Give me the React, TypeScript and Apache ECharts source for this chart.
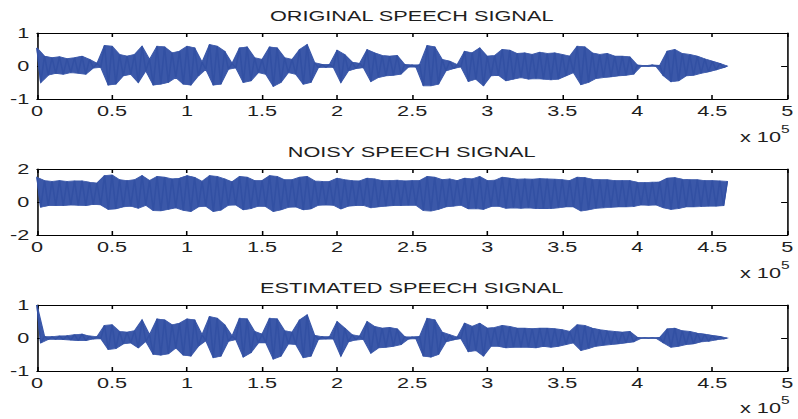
import React, { useEffect, useRef } from "react";
import * as echarts from "echarts";

// ---------------- data (x in units of 10^5 samples) ----------------
// Peak (upper) values read at x = 0, 0.05, 0.10, ... 4.60
// Trough (lower) values read at x = 0.025, 0.075, ... 4.575
const STEP = 0.05;

const origTop = [
  0.55, 0.3, 0.25, 0.28, 0.22, 0.25, 0.3, 0.2, 0.08, 0.62,
  0.6, 0.35, 0.3, 0.35, 0.6, 0.2, 0.6, 0.58, 0.4, 0.45,
  0.6, 0.55, 0.12, 0.65, 0.6, 0.45, 0.08, 0.55, 0.58, 0.25,
  0.2, 0.58, 0.55, 0.25, 0.2, 0.5, 0.65, 0.1, 0.05, 0.05,
  0.48, 0.35, 0.12, 0.08, 0.5, 0.4, 0.32, 0.3, 0.32, 0.05,
  0.03, 0.04, 0.62, 0.58, 0.2, 0.15, 0.04, 0.45, 0.4, 0.55,
  0.3, 0.32, 0.5, 0.48, 0.38, 0.4, 0.35, 0.42, 0.38, 0.4,
  0.35, 0.3, 0.6, 0.58, 0.4, 0.35, 0.38, 0.3, 0.3, 0.28,
  0.03, 0.01, 0.03, 0.02, 0.45, 0.5, 0.38, 0.35, 0.3, 0.22,
  0.15, 0.08, 0.0,
];
const origBot = [
  -0.5, -0.28, -0.22, -0.25, -0.2, -0.22, -0.25, -0.06, -0.04, -0.58,
  -0.55, -0.3, -0.25, -0.5, -0.15, -0.58, -0.55, -0.5, -0.35, -0.55,
  -0.58, -0.3, -0.1, -0.58, -0.55, -0.1, -0.06, -0.5, -0.45, -0.2,
  -0.25, -0.62, -0.5, -0.2, -0.25, -0.55, -0.5, -0.05, -0.04, -0.04,
  -0.5, -0.15, -0.08, -0.05, -0.47, -0.35, -0.3, -0.28, -0.25, -0.03,
  -0.03, -0.6, -0.6, -0.55, -0.15, -0.08, -0.03, -0.47, -0.4, -0.6,
  -0.3, -0.28, -0.45, -0.4, -0.35, -0.4, -0.38, -0.4, -0.42, -0.4,
  -0.3, -0.2, -0.57, -0.5, -0.38, -0.35, -0.33, -0.3, -0.28, -0.25,
  -0.01, -0.01, -0.01, -0.3, -0.48, -0.45, -0.3, -0.28, -0.22, -0.18,
  -0.12, -0.05,
];

const noisyTop = [
  1.5, 1.3, 1.25, 1.3, 1.25, 1.28, 1.28, 1.2, 1.15, 1.6,
  1.64, 1.35, 1.3, 1.35, 1.6, 1.3, 1.55, 1.5, 1.4, 1.45,
  1.6, 1.5, 1.25, 1.6, 1.55, 1.4, 1.22, 1.55, 1.5, 1.3,
  1.3, 1.6, 1.55, 1.35, 1.35, 1.5, 1.55, 1.28, 1.25, 1.25,
  1.45, 1.35, 1.3, 1.28, 1.45, 1.4, 1.3, 1.3, 1.32, 1.28,
  1.3, 1.3, 1.55, 1.5, 1.35, 1.4, 1.3, 1.45, 1.4, 1.55,
  1.3, 1.32, 1.5, 1.45, 1.38, 1.4, 1.38, 1.42, 1.4, 1.38,
  1.35, 1.3, 1.5, 1.48, 1.38, 1.35, 1.35, 1.3, 1.3, 1.3,
  1.2, 1.18, 1.2, 1.22, 1.45, 1.48, 1.38, 1.35, 1.35, 1.3,
  1.3, 1.28, 1.25,
];
const noisyBot = [
  -0.32, -0.22, -0.2, -0.22, -0.18, -0.2, -0.22, -0.15, -0.18, -0.45,
  -0.42, -0.3, -0.25, -0.38, -0.2, -0.52, -0.53, -0.45, -0.35, -0.5,
  -0.58, -0.3, -0.25, -0.58, -0.5, -0.2, -0.18, -0.48, -0.4, -0.25,
  -0.28, -0.58, -0.48, -0.32, -0.3, -0.48, -0.42, -0.2, -0.18, -0.2,
  -0.42, -0.25, -0.22, -0.2, -0.35, -0.3, -0.25, -0.22, -0.22, -0.2,
  -0.2, -0.52, -0.55, -0.45, -0.3, -0.25, -0.2, -0.42, -0.4, -0.45,
  -0.28, -0.25, -0.38, -0.35, -0.38, -0.35, -0.4, -0.38, -0.4, -0.35,
  -0.3, -0.3, -0.55, -0.48, -0.38, -0.35, -0.32, -0.3, -0.3, -0.28,
  -0.18, -0.2, -0.18, -0.35, -0.45, -0.4, -0.3, -0.3, -0.28, -0.25,
  -0.25, -0.22,
];

const estTop = [
  1.0, 0.05, 0.04, 0.06, 0.07, 0.1, 0.12, 0.06, 0.04, 0.38,
  0.4, 0.2, 0.18, 0.22, 0.55, 0.1, 0.58, 0.55, 0.4, 0.45,
  0.58, 0.55, 0.1, 0.65, 0.6, 0.4, 0.06, 0.6, 0.58, 0.2,
  0.12, 0.6, 0.58, 0.22, 0.18, 0.55, 0.7, 0.08, 0.04, 0.04,
  0.5, 0.3, 0.1, 0.06, 0.5, 0.35, 0.3, 0.32, 0.28, 0.04,
  0.03, 0.05, 0.6, 0.55, 0.18, 0.1, 0.03, 0.45, 0.35, 0.45,
  0.3, 0.32, 0.38, 0.35, 0.3, 0.3, 0.28, 0.3, 0.3, 0.28,
  0.25, 0.2, 0.4, 0.38, 0.3, 0.25, 0.22, 0.2, 0.18, 0.2,
  0.02, 0.01, 0.01, 0.02, 0.28, 0.3, 0.22, 0.2, 0.15, 0.12,
  0.08, 0.05, 0.0,
];
const estBot = [
  -0.15, -0.04, -0.04, -0.05, -0.06, -0.08, -0.08, -0.03, -0.02, -0.35,
  -0.32, -0.18, -0.15, -0.3, -0.1, -0.5, -0.52, -0.48, -0.3, -0.52,
  -0.55, -0.25, -0.08, -0.6, -0.55, -0.1, -0.05, -0.58, -0.45, -0.15,
  -0.15, -0.64, -0.55, -0.18, -0.2, -0.6, -0.55, -0.04, -0.03, -0.03,
  -0.55, -0.12, -0.06, -0.04, -0.46, -0.3, -0.28, -0.25, -0.2, -0.03,
  -0.02, -0.55, -0.58, -0.5, -0.12, -0.06, -0.02, -0.42, -0.38, -0.55,
  -0.25, -0.25, -0.3, -0.28, -0.28, -0.28, -0.3, -0.25, -0.28, -0.25,
  -0.2, -0.15, -0.38, -0.32, -0.25, -0.22, -0.2, -0.18, -0.15, -0.12,
  -0.01, -0.01, -0.01, -0.15, -0.28, -0.25, -0.2, -0.18, -0.12, -0.1,
  -0.06, -0.03,
];

const titles = ["ORIGINAL SPEECH SIGNAL", "NOISY SPEECH SIGNAL", "ESTIMATED SPEECH SIGNAL"];
const xTickLabels = ["0", "0.5", "1", "1.5", "2", "2.5", "3", "3.5", "4", "4.5", "5"];
const yRanges = [
  { min: -1, max: 1, interval: 1 },
  { min: -2, max: 2, interval: 2 },
  { min: -1, max: 1, interval: 1 },
];
const signals = [
  { top: origTop, bot: origBot },
  { top: noisyTop, bot: noisyBot },
  { top: estTop, bot: estBot },
];

// ---------------- layout ----------------
const SCREEN_W = 798;
const CW = 515; // chart drawn narrower, then stretched horizontally like the reference
const CH = 419;
const SX = SCREEN_W / CW;
const GRID_LEFT = 37 / SX;
const GRID_W = 754 / SX;
const GRID_TOPS = [33, 169, 305];
const GRID_H = 66;
const TITLE_Y = [16, 152, 288];
const EXP_Y = [137, 273, 408];

const FONT = '"Liberation Sans", Arial, Helvetica, sans-serif';
const LINE = "#3250a3";
const BAND = "#3b58a9";
const TXT = "#1e1e1e";

function zigzag(top: number[], bot: number[]) {
  const pts: number[][] = [];
  for (let i = 0; i < top.length; i++) {
    pts.push([i * STEP, top[i]]);
    if (i < bot.length) pts.push([i * STEP + STEP / 2, bot[i]]);
  }
  return pts;
}

export default function App() {
  const ref = useRef<HTMLDivElement>(null);

  useEffect(() => {
    if (!ref.current) return;
    const chart = echarts.init(ref.current, null, { renderer: "svg" });

    const grid = GRID_TOPS.map((t) => ({
      left: GRID_LEFT,
      top: t,
      width: GRID_W,
      height: GRID_H,
      containLabel: false,
    }));

    const xAxis: any[] = [];
    const yAxis: any[] = [];
    const series: any[] = [];
    const tick = { show: true, inside: true, length: 4, lineStyle: { color: "#000", width: 1 } };
    const axLine = { show: true, onZero: false, lineStyle: { color: "#000", width: 1 } };

    for (let g = 0; g < 3; g++) {
      const base = {
        type: "value",
        gridIndex: g,
        min: 0,
        max: 5,
        interval: 0.5,
        axisLine: axLine,
        axisTick: tick,
        splitLine: { show: false },
      };
      xAxis.push({
        ...base,
        position: "bottom",
        axisLabel: {
          margin: 5,
          fontSize: 14,
          fontFamily: FONT,
          color: TXT,
          formatter: (v: number) => xTickLabels[Math.round(v / 0.5)],
        },
      });
      xAxis.push({ ...base, position: "top", axisLabel: { show: false } });

      const yb = {
        type: "value",
        gridIndex: g,
        min: yRanges[g].min,
        max: yRanges[g].max,
        interval: yRanges[g].interval,
        axisLine: axLine,
        axisTick: tick,
        splitLine: { show: false },
      };
      yAxis.push({
        ...yb,
        position: "left",
        axisLabel: { margin: 5, fontSize: 14, fontFamily: FONT, color: TXT },
      });
      yAxis.push({ ...yb, position: "right", axisLabel: { show: false } });

      const { top, bot } = signals[g];
      series.push({
        type: "custom",
        xAxisIndex: 2 * g,
        yAxisIndex: 2 * g,
        silent: true,
        z: 2,
        data: [[0, 0]],
        renderItem: (_p: any, api: any) => {
          const upper = top.map((v, i) => api.coord([i * STEP, v]));
          const lower = bot.map((v, i) => api.coord([i * STEP + STEP / 2, v])).reverse();
          return {
            type: "polygon",
            shape: { points: upper.concat(lower) },
            style: { fill: BAND, stroke: BAND, lineWidth: 0.8 },
          };
        },
      });
      series.push({
        type: "line",
        xAxisIndex: 2 * g,
        yAxisIndex: 2 * g,
        data: zigzag(top, bot),
        symbol: "none",
        showSymbol: false,
        silent: true,
        z: 3,
        lineStyle: { color: LINE, width: 1 },
      });
    }

    const graphic: any[] = [];
    const cx = GRID_LEFT + GRID_W / 2 - 1.5;
    for (let g = 0; g < 3; g++) {
      graphic.push({
        type: "text",
        x: cx,
        y: TITLE_Y[g],
        style: {
          text: titles[g],
          fontSize: 14,
          fontFamily: FONT,
          fill: TXT,
          align: "center",
          verticalAlign: "middle",
        },
      });
      graphic.push({
        type: "text",
        x: 740 / SX,
        y: EXP_Y[g],
        style: {
          text: "x 10",
          fontSize: 14,
          fontFamily: FONT,
          fill: TXT,
          align: "left",
          verticalAlign: "middle",
        },
      });
      graphic.push({
        type: "text",
        x: 781 / SX,
        y: EXP_Y[g] - 7,
        style: {
          text: "5",
          fontSize: 10,
          fontFamily: FONT,
          fill: TXT,
          align: "left",
          verticalAlign: "middle",
        },
      });
    }

    chart.setOption({
      animation: false,
      backgroundColor: "#fff",
      grid,
      xAxis,
      yAxis,
      series,
      graphic,
    });
    return () => chart.dispose();
  }, []);

  return (
    <div
      style={{
        position: "fixed",
        left: 0,
        top: 0,
        width: SCREEN_W,
        height: CH,
        overflow: "hidden",
        background: "#fff",
      }}
    >
      <div
        ref={ref}
        style={{
          width: CW,
          height: CH,
          transform: `scaleX(${SX})`,
          transformOrigin: "0 0",
        }}
      />
    </div>
  );
}
